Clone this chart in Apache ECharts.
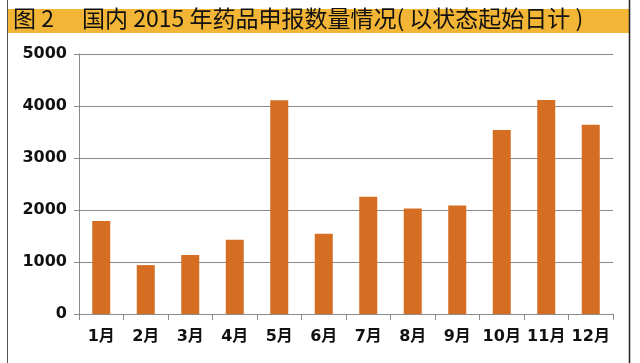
<!DOCTYPE html>
<html>
<head>
<meta charset="utf-8">
<script src="https://cdn.jsdelivr.net/npm/echarts@6/dist/echarts.min.js"></script>
<style>
html,body{margin:0;padding:0;background:#fff;}
#main{width:640px;height:363px;}
</style>
</head>
<body>
<div id="main"></div>
<script>
const titleText = '图 2　 国内 2015 年药品申报数量情况( 以状态起始日计 )';
const categories = ['1月','2月','3月','4月','5月','6月','7月','8月','9月','10月','11月','12月'];
const values = [1790, 940, 1135, 1430, 4110, 1545, 2255, 2030, 2085, 3540, 4115, 3640];
const yTicks = [0, 1000, 2000, 3000, 4000, 5000];

const chart = echarts.init(document.getElementById('main'), null, {renderer: 'canvas'});
const font = '"Noto Sans CJK SC", "Noto Sans", sans-serif';
const labelFont = '"DejaVu Sans", "Noto Sans CJK SC", sans-serif';
chart.setOption({
  animation: false,
  backgroundColor: '#ffffff',
  graphic: [
    {type: 'rect', shape: {x: 7, y: 9, width: 622, height: 24}, style: {fill: '#F2B535'}, z: 0},
    {type: 'line', shape: {x1: 7.5, y1: 0, x2: 7.5, y2: 363}, style: {stroke: '#555', lineWidth: 1}},
    {type: 'line', shape: {x1: 629.5, y1: 0, x2: 629.5, y2: 363}, style: {stroke: '#222', lineWidth: 1.5}},
    {type: 'text', left: 13, top: 7, style: {text: titleText, font: '23px ' + font, fill: '#111', textVerticalAlign: 'top'}, z: 10}
  ],
  grid: {left: 79, right: 27, top: 54, bottom: 49, containLabel: false},
  xAxis: {
    type: 'category',
    data: categories,
    axisLine: {lineStyle: {color: '#8a8a8a', width: 1}},
    axisTick: {show: true, length: 6, lineStyle: {color: '#8a8a8a'}},
    axisLabel: {color: '#111', fontSize: 16, fontWeight: 'bold', fontFamily: labelFont, margin: 15, interval: 0}
  },
  yAxis: {
    type: 'value',
    min: yTicks[0],
    max: yTicks[yTicks.length - 1],
    interval: 1000,
    axisLine: {show: true, lineStyle: {color: '#8a8a8a', width: 1}},
    axisTick: {show: true, length: 5, lineStyle: {color: '#8a8a8a'}},
    splitLine: {lineStyle: {color: '#8a8a8a', width: 1}},
    axisLabel: {color: '#111', fontSize: 16, fontWeight: 'bold', fontFamily: labelFont, margin: 12, formatter: v => String(v)}
  },
  series: [{
    type: 'bar',
    data: values,
    barWidth: 18,
    itemStyle: {color: '#D56D23'}
  }]
});
</script>
</body>
</html>
